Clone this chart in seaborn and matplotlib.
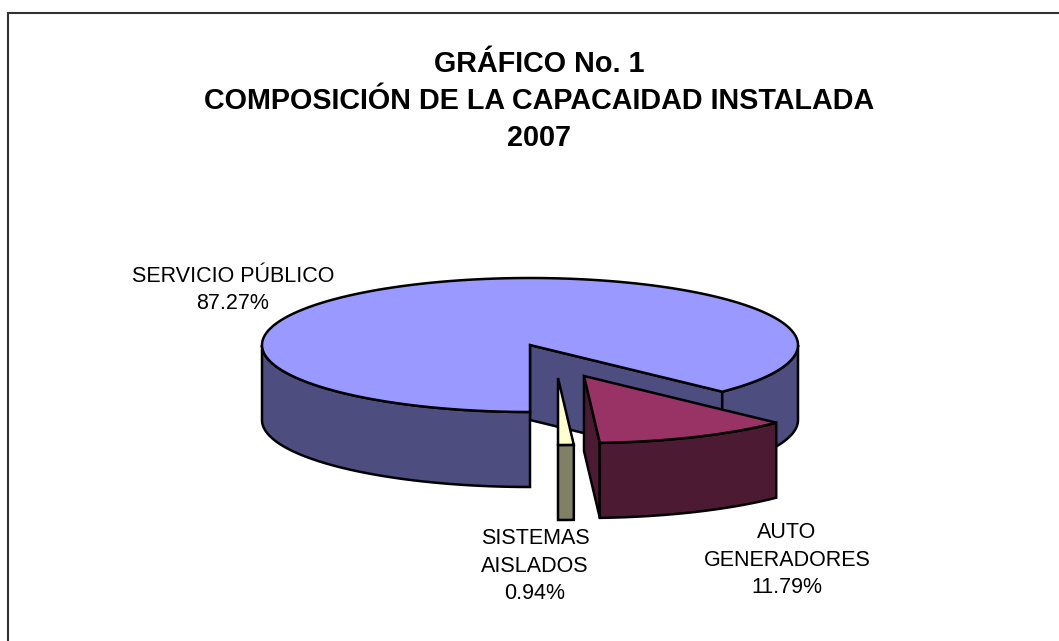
import numpy as np
import matplotlib.pyplot as plt
import seaborn as sns

sns.set_theme(style="white")
plt.rcParams['font.family'] = ['Liberation Sans', 'DejaVu Sans']

title = "GRÁFICO No. 1\nCOMPOSICIÓN DE LA CAPACAIDAD INSTALADA\n2007"

# clockwise from the 6 o'clock position
names = ["SERVICIO PÚBLICO\n87.27%", "AUTO\nGENERADORES\n11.79%", "SISTEMAS\nAISLADOS\n0.94%"]
shares = [87.27, 11.79, 0.94]
top_colors = ["#9999FF", "#993366", "#FFFFCC"]
side_colors = ["#4D4D80", "#4D1A33", "#808066"]

# pie geometry in image pixels
cx, cy = 530, 345
rx, ry = 268, 67
depth = 75
start = 180
offsets = [(0, 0), (54, 31), (28, 33)]
label_pos = [(233, 290), (787, 560), (535, 566)]
edge = dict(ec='black', lw=1.8, joinstyle='miter')

fig = plt.figure(figsize=(10.59, 6.41), dpi=100)
ax = fig.add_axes([0, 0, 1, 1])
ax.set_xlim(0, 1059)
ax.set_ylim(641, 0)
ax.axis('off')


def rim(a, b, ox, oy):
    # a, b in degrees clockwise from 12 o'clock
    t = np.radians(np.linspace(a, b, 200))
    return cx + ox + rx * np.sin(t), cy + oy - ry * np.cos(t)


def outer_side(a, b, ox, oy, color):
    x, y = rim(a, b, ox, oy)
    ax.fill(np.r_[x, x[::-1]], np.r_[y, y[::-1] + depth], fc=color, **edge)


def cut_face(angle, ox, oy, color):
    x, y = rim(angle, angle, ox, oy)
    px = [cx + ox, x[0], x[0], cx + ox]
    py = [cy + oy, y[0], y[0] + depth, cy + oy + depth]
    ax.fill(px, py, fc=color, **edge)


def top_face(a, b, ox, oy, color):
    x, y = rim(a, b, ox, oy)
    ax.fill(np.r_[cx + ox, x], np.r_[cy + oy, y], fc=color, **edge)


ends = start + np.cumsum(np.array(shares) * 3.6)
begins = np.r_[start, ends[:-1]]

# main slice: back wall first, then the visible outside, then the top
a, b = begins[0], ends[0]
cut_face(b, 0, 0, side_colors[0])
outer_side(a, 270, 0, 0, side_colors[0])
outer_side(450, b, 0, 0, side_colors[0])
top_face(a, b, 0, 0, top_colors[0])

# small slice, then the auto generadores one in front of it
a, b = begins[2], ends[2]
ox, oy = offsets[2]
outer_side(a, b, ox, oy, side_colors[2])
top_face(a, b, ox, oy, top_colors[2])

a, b = begins[1], ends[1]
ox, oy = offsets[1]
cut_face(b, ox, oy, side_colors[1])
outer_side(a, b, ox, oy, side_colors[1])
top_face(a, b, ox, oy, top_colors[1])

for name, (lx, ly) in zip(names, label_pos):
    ax.text(lx, ly, name, ha='center', va='center', fontsize=15.5, color='black', linespacing=1.42)

ax.text(539, 101, title, ha='center', va='center', fontsize=20.7, fontweight='bold', color='black', linespacing=1.4)

# chart area frame
ax.plot([8, 8, 1059], [641, 13, 13], color='#333333', lw=1.5, solid_joinstyle='miter')

fig.savefig('out.png', dpi=100)
